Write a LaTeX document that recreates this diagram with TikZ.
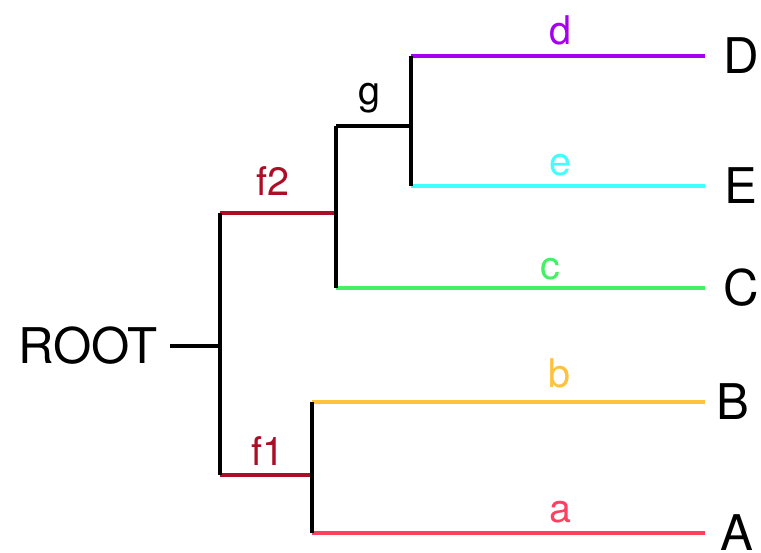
\documentclass[tikz,border=0pt]{standalone}
\usepackage{fontspec}
\setmainfont{TeX Gyre Heros}
\usetikzlibrary{positioning}
\definecolor{fred}{RGB}{172,14,40}
\definecolor{dcol}{RGB}{165,0,240}
\definecolor{ecol}{RGB}{64,255,255}
\definecolor{ccol}{RGB}{68,240,100}
\definecolor{bcol}{RGB}{255,194,60}
\definecolor{acol}{RGB}{255,64,96}
\tikzset{
  br/.style={line width=2pt},
  leaf/.style={inner sep=0pt, font=\fontsize{28}{30}\selectfont},
  lab/.style={inner sep=0pt, anchor=base, font=\fontsize{22.5}{26}\selectfont},
}

\begin{document}
\begin{tikzpicture}[x=0.02cm,y=-0.02cm]
      \useasboundingbox (0,0) rectangle (761,552);
      % junctions
      \coordinate (j0) at (220,346);
      \coordinate (jf2) at (220,213);
      \coordinate (jf1) at (220,475);
      \coordinate (g1) at (336,126);
      \coordinate (c1) at (336,288);
      \coordinate (g2) at (411,126);
      \coordinate (d1) at (411,56);
      \coordinate (e1) at (411,186);
      \coordinate (b1) at (312,402);
      \coordinate (a1) at (312,533);
      \coordinate (dD) at (705,56);
      \coordinate (eE) at (705,186);
      \coordinate (cC) at (705,288);
      \coordinate (bB) at (705,402);
      \coordinate (aA) at (705,533);
      % names
      \node[leaf, anchor=east, inner xsep=0.24cm] (root) at (170,346) {ROOT};
      \node[leaf, anchor=west, right=0.36cm of dD] (D) {D};
      \node[leaf, anchor=west, right=0.38cm of eE] (E) {E};
      \node[leaf, anchor=west, right=0.36cm of cC] (C) {C};
      \node[leaf, anchor=west, right=0.22cm of bB] (B) {B};
      \node[leaf, anchor=west, right=0.30cm of aA] (A) {A};
      % branches
      \draw[br] (root.east) -- (j0);
      \draw[br, fred] (jf2) -- (g1 |- jf2) coordinate (f2e);
      \draw[br, fred] (jf1) -- (b1 |- jf1) coordinate (f1e);
      \draw[br] (g1) -- (g2);
      \draw[br, dcol] (d1) -- (dD);
      \draw[br, ecol] (e1) -- (eE);
      \draw[br, ccol] (c1) -- (cC);
      \draw[br, bcol] (b1) -- (bB);
      \draw[br, acol] (a1) -- (aA);
      \draw[br] (jf2) -- (jf1);
      \draw[br] (g1) -- (c1);
      \draw[br] (d1) -- (e1);
      \draw[br] (b1) -- (a1);
      % labels
      \node[lab, fred] (lf2) at (273,195) {f2};
      \node[lab, fred] (lf1) at (268,465) {f1};
      \node[lab] (lg) at (369,104) {g};
      \node[lab, dcol] (ld) at (560,44) {d};
      \node[lab, ecol] (le) at (560,175) {e};
      \node[lab, ccol] (lc) at (550,279) {c};
      \node[lab, bcol] (lb) at (559,387) {b};
      \node[lab, acol] (la) at (560,522) {a};
    \end{tikzpicture}
\end{document}
